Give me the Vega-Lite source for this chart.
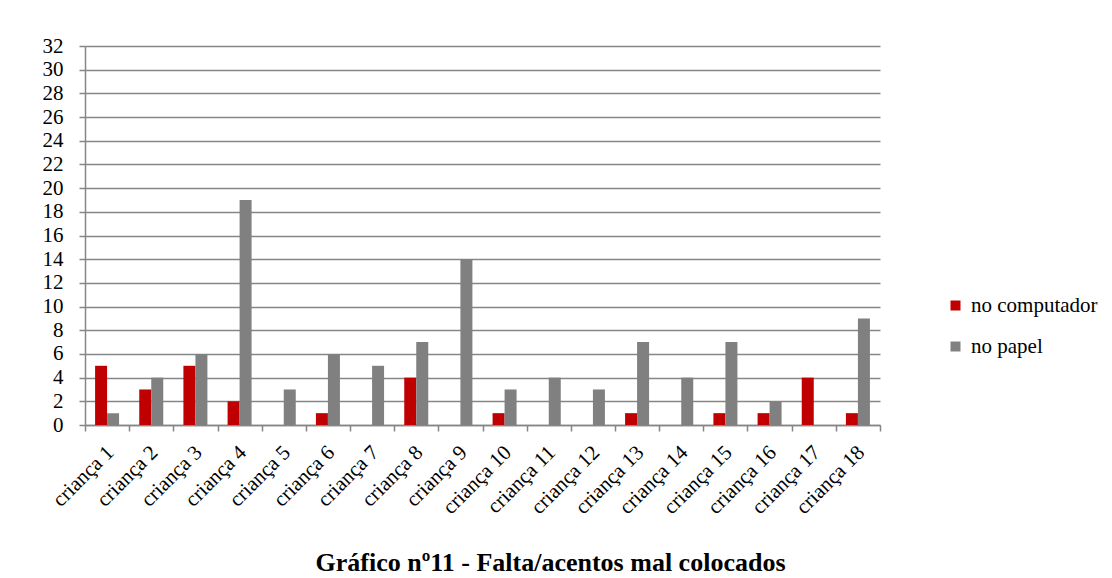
{
  "$schema": "https://vega.github.io/schema/vega-lite/v6.json",
  "autosize": {"type": "none"},
  "width": 795,
  "height": 379,
  "padding": {"left": 85, "top": 46, "right": 232, "bottom": 153},
  "background": "white",
  "data": {
    "values": [
      {"c": "criança 1", "s": "no computador", "v": 5}, {"c": "criança 1", "s": "no papel", "v": 1},
      {"c": "criança 2", "s": "no computador", "v": 3}, {"c": "criança 2", "s": "no papel", "v": 4},
      {"c": "criança 3", "s": "no computador", "v": 5}, {"c": "criança 3", "s": "no papel", "v": 6},
      {"c": "criança 4", "s": "no computador", "v": 2}, {"c": "criança 4", "s": "no papel", "v": 19},
      {"c": "criança 5", "s": "no computador", "v": 0}, {"c": "criança 5", "s": "no papel", "v": 3},
      {"c": "criança 6", "s": "no computador", "v": 1}, {"c": "criança 6", "s": "no papel", "v": 6},
      {"c": "criança 7", "s": "no computador", "v": 0}, {"c": "criança 7", "s": "no papel", "v": 5},
      {"c": "criança 8", "s": "no computador", "v": 4}, {"c": "criança 8", "s": "no papel", "v": 7},
      {"c": "criança 9", "s": "no computador", "v": 0}, {"c": "criança 9", "s": "no papel", "v": 14},
      {"c": "criança 10", "s": "no computador", "v": 1}, {"c": "criança 10", "s": "no papel", "v": 3},
      {"c": "criança 11", "s": "no computador", "v": 0}, {"c": "criança 11", "s": "no papel", "v": 4},
      {"c": "criança 12", "s": "no computador", "v": 0}, {"c": "criança 12", "s": "no papel", "v": 3},
      {"c": "criança 13", "s": "no computador", "v": 1}, {"c": "criança 13", "s": "no papel", "v": 7},
      {"c": "criança 14", "s": "no computador", "v": 0}, {"c": "criança 14", "s": "no papel", "v": 4},
      {"c": "criança 15", "s": "no computador", "v": 1}, {"c": "criança 15", "s": "no papel", "v": 7},
      {"c": "criança 16", "s": "no computador", "v": 1}, {"c": "criança 16", "s": "no papel", "v": 2},
      {"c": "criança 17", "s": "no computador", "v": 4}, {"c": "criança 17", "s": "no papel", "v": 0},
      {"c": "criança 18", "s": "no computador", "v": 1}, {"c": "criança 18", "s": "no papel", "v": 9}
    ]
  },
  "title": {
    "text": "Gráfico nº11 - Falta/acentos mal colocados",
    "orient": "bottom",
    "anchor": "middle",
    "fontSize": 26,
    "fontWeight": "bold",
    "color": "black",
    "offset": 33,
    "dx": 68
  },
  "mark": {"type": "bar"},
  "encoding": {
    "x": {
      "field": "c",
      "type": "nominal",
      "sort": null,
      "scale": {"paddingInner": 0, "paddingOuter": 0},
      "axis": {
        "title": null,
        "labelAngle": -45,
        "labelAlign": "right",
        "labelBaseline": "middle",
        "labelPadding": 18,
        "labelOffset": 3,
        "tickBand": "extent",
        "grid": false
      }
    },
    "xOffset": {"field": "s", "type": "nominal", "scale": {"paddingInner": 0, "paddingOuter": 0.84}},
    "y": {
      "field": "v",
      "type": "quantitative",
      "scale": {"domain": [0, 32], "nice": false},
      "axis": {
        "title": null,
        "values": [0, 2, 4, 6, 8, 10, 12, 14, 16, 18, 20, 22, 24, 26, 28, 30, 32],
        "labelPadding": 16
      }
    },
    "color": {
      "field": "s",
      "type": "nominal",
      "scale": {"domain": ["no computador", "no papel"], "range": ["#C00000", "#808080"]},
      "legend": {
        "title": null,
        "orient": "none",
        "legendX": 860,
        "legendY": 249,
        "symbolType": "square",
        "symbolSize": 100,
        "symbolStrokeWidth": 0,
        "rowPadding": 19,
        "labelOffset": 5
      }
    }
  },
  "config": {
    "font": "Liberation Serif",
    "view": {"stroke": null},
    "style": {"guide-label": {"font": "Liberation Serif", "fontSize": 21, "fill": "black"}},
    "axis": {
      "labelFont": "Liberation Serif",
      "labelFontSize": 21,
      "labelColor": "black",
      "tickColor": "#868686",
      "tickWidth": 1.5,
      "tickSize": 6,
      "domainColor": "#868686",
      "domainWidth": 1.5,
      "gridColor": "#868686",
      "gridWidth": 1.5,
      "gridOpacity": 1
    },
    "legend": {
      "labelFont": "Liberation Serif",
      "labelFontSize": 21,
      "labelColor": "black",
      "labelLimit": 300
    }
  }
}
